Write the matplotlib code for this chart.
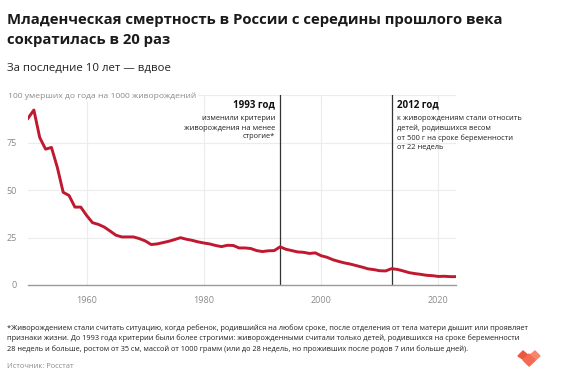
import matplotlib
matplotlib.use('Agg')
import matplotlib.pyplot as plt
from matplotlib.patches import Polygon

plt.rcParams['font.family'] = ['Open Sans', 'DejaVu Sans']

# годы и значения (умерших до года на 1000 живорождений)
years = list(range(1950, 2024))
values = [87.7, 92.1, 77.6, 71.5, 72.4, 61.9, 48.8, 47.1, 41.0, 41.0,
          36.6, 32.8, 31.9, 30.5, 28.4, 26.2, 25.3, 25.3, 25.3, 24.4,
          23.2, 21.3, 21.6, 22.3, 23.0, 23.9, 24.9, 24.1, 23.5, 22.7,
          22.1, 21.6, 20.8, 20.2, 20.9, 20.8, 19.5, 19.5, 19.2, 18.1,
          17.6, 18.0, 18.1, 20.1, 18.8, 18.1, 17.4, 17.2, 16.6, 16.9,
          15.4, 14.6, 13.3, 12.4, 11.6, 11.0, 10.2, 9.4, 8.5, 8.1,
          7.5, 7.4, 8.6, 8.2, 7.4, 6.5, 6.0, 5.6, 5.1, 4.9,
          4.5, 4.6, 4.4, 4.4]

x_ticks = [1960, 1980, 2000, 2020]
y_ticks = [0, 25, 50, 75]
events = [1993, 2012]

red = '#c0182f'
gray_text = '#8a8a8a'

fig = plt.figure(figsize=(5.63, 3.78), dpi=100)
W, H = 563, 378
ax = fig.add_axes([28 / W, 1 - 285 / H, (456 - 28) / W, (285 - 95) / H])

# сетка
for yv in [25, 50, 75, 100]:
    ax.axhline(yv, color='#ececec', lw=0.8, zorder=0)
for xv in x_ticks:
    ax.axvline(xv, color='#ececec', lw=0.8, zorder=0)

# вертикальные линии событий
for ev in events:
    ax.axvline(ev, color='#333333', lw=0.9, zorder=2)

ax.plot(years, values, color=red, lw=2.1, solid_joinstyle='round', zorder=3)

ax.set_xlim(1950, 2023)
ax.set_ylim(0, 100)
ax.set_xticks(x_ticks)
ax.set_yticks(y_ticks)
ax.tick_params(length=0, labelsize=6.5, labelcolor=gray_text, pad=8)
for s in ['top', 'right', 'left']:
    ax.spines[s].set_visible(False)
ax.spines['bottom'].set_color('#9a9a9a')
ax.spines['bottom'].set_linewidth(1.0)

# подпись оси Y
fig.text(8 / W, 1 - 96 / H, '100 умерших до года на 1000 живорождений',
         fontsize=6.1, color=gray_text, va='center',
         bbox=dict(facecolor='white', edgecolor='none', pad=1))

# аннотации
fig.text(275 / W, 1 - 105 / H, '1993 год', fontsize=7.0, fontweight='bold',
         ha='right', va='center', color='#111111')
fig.text(275 / W, 1 - 128 / H, 'изменили критерии\nживорождения на менее\nстрогие*',
         fontsize=5.4, ha='right', va='center', color='#222222', linespacing=1.4)
fig.text(397 / W, 1 - 105 / H, '2012 год', fontsize=7.0, fontweight='bold',
         ha='left', va='center', color='#111111')
fig.text(397 / W, 1 - 133 / H,
         'к живорождениям стали относить\nдетей, родившихся весом\nот 500 г на сроке беременности\nот 22 недель',
         fontsize=5.4, ha='left', va='center', color='#222222', linespacing=1.4)

# заголовок
fig.text(7 / W, 1 - 20 / H, 'Младенческая смертность в России с середины прошлого века',
         fontsize=10.75, fontweight='bold', va='center', color='#1a1a1a')
fig.text(7 / W, 1 - 40 / H, 'сократилась в 20 раз',
         fontsize=10.75, fontweight='bold', va='center', color='#1a1a1a')
fig.text(7 / W, 1 - 68 / H, 'За последние 10 лет — вдвое',
         fontsize=8.2, va='center', color='#222222')

# сноска
fig.text(7 / W, 1 - 338.5 / H,
         '*Живорождением стали считать ситуацию, когда ребенок, родившийся на любом сроке, после отделения от тела матери дышит или проявляет\n'
         'признаки жизни. До 1993 года критерии были более строгими: живорожденными считали только детей, родившихся на сроке беременности\n'
         '28 недель и больше, ростом от 35 см, массой от 1000 грамм (или до 28 недель, но проживших после родов 7 или больше дней).',
         fontsize=5.3, va='center', color='#222222', linespacing=1.45)
fig.text(7 / W, 1 - 367 / H, 'Источник: Росстат', fontsize=5.4, va='center', color=gray_text)

# логотип
def px(x, y):
    return (x / W, 1 - y / H)

logo_l = Polygon([px(518, 356), px(523, 351), px(529, 356), px(529, 363)],
                 closed=True, transform=fig.transFigure, color='#f0553e')
logo_r = Polygon([px(529, 356), px(535, 351), px(540, 356), px(529, 366)],
                 closed=True, transform=fig.transFigure, color='#f7866c')
logo_m = Polygon([px(523, 360), px(529, 354), px(535, 360), px(529, 366)],
                 closed=True, transform=fig.transFigure, color='#f56a52')
fig.patches.extend([logo_r, logo_l, logo_m])

fig.savefig('out.png', dpi=100, facecolor='white')
